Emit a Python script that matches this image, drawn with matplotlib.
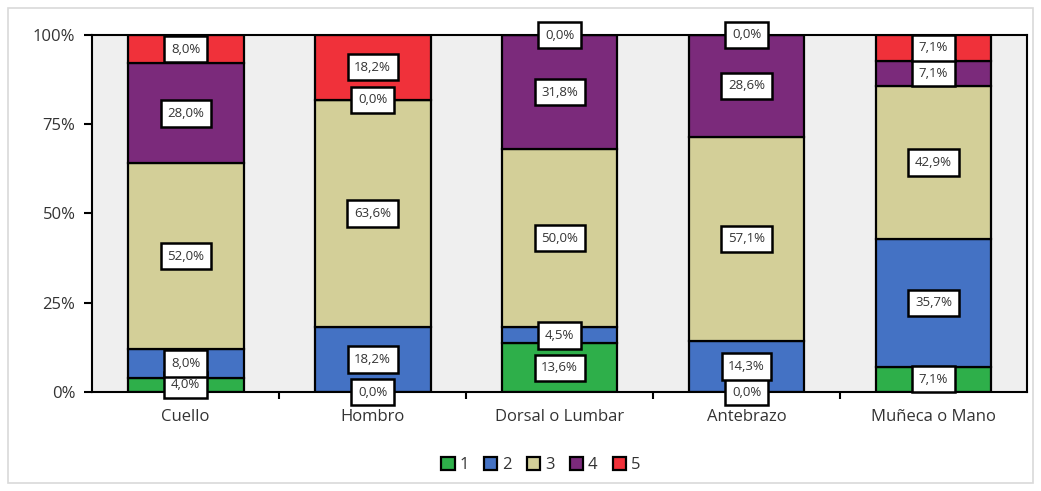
import matplotlib.pyplot as plt
from matplotlib.patches import Rectangle
import numpy as np

categories = ["Cuello", "Hombro", "Dorsal o Lumbar", "Antebrazo", "Muñeca o Mano"]
series_names = ["1", "2", "3", "4", "5"]
s1 = [4.0, 0.0, 13.6, 0.0, 7.1]
s2 = [8.0, 18.2, 4.5, 14.3, 35.7]
s3 = [52.0, 63.6, 50.0, 57.1, 42.9]
s4 = [28.0, 0.0, 31.8, 28.6, 7.1]
s5 = [8.0, 18.2, 0.0, 0.0, 7.1]
colors = ["#2eaf4a", "#4472c4", "#d3cf98", "#7b2a7b", "#f0313a"]

plt.rcParams["font.family"] = ["Open Sans", "DejaVu Sans"]

fig = plt.figure(figsize=(10.41, 4.91), dpi=100)
ax = fig.add_axes([0.0885, 0.2016, 0.898, 0.7274])
ax.set_facecolor("#efefef")

x = np.arange(len(categories))
bottom = np.zeros(len(categories))
handles = []
for name, vals, col in zip(series_names, [s1, s2, s3, s4, s5], colors):
    vals = np.array(vals)
    b = ax.bar(x, vals, 0.62, bottom=bottom, color=col, edgecolor="black",
               linewidth=1.6, label=name, zorder=2)
    handles.append(b)
    for xi, v, bt in zip(x, vals, bottom):
        ax.text(xi, bt + v / 2, f"{v:.1f}".replace(".", ",") + "%",
                ha="center", va="center", fontsize=9.5, color="#333333", zorder=5,
                bbox=dict(boxstyle="square,pad=0.5", fc="white", ec="black", lw=1.8))
    bottom = bottom + vals

ax.set_xlim(-0.5, 4.5)
ax.set_ylim(0, 100)
ax.set_yticks([0, 25, 50, 75, 100])
ax.set_yticklabels(["0%", "25%", "50%", "75%", "100%"])
ax.set_xticks(x)
ax.set_xticklabels(categories)
ax.set_xticks([0.5, 1.5, 2.5, 3.5], minor=True)
ax.tick_params(axis="x", which="major", length=0, pad=12, labelsize=12, colors="#333333")
ax.tick_params(axis="x", which="minor", length=5, width=1.5, direction="out")
ax.tick_params(axis="y", length=6, width=1.5, direction="out", labelsize=12,
               labelcolor="#333333", pad=6)
for sp in ax.spines.values():
    sp.set_linewidth(1.5)

ax.legend(handles=handles, loc="upper center", bbox_to_anchor=(0.48, -0.14),
          ncol=5, frameon=False, fontsize=12, handlelength=0.8, handleheight=0.8,
          handletextpad=0.3, columnspacing=0.9, labelcolor="#333333")

fig.patches.append(Rectangle((0.008, 0.016), 0.984, 0.968, transform=fig.transFigure,
                             fill=False, ec="#d9d9d9", lw=1.2))

fig.savefig("out.png", dpi=100)
